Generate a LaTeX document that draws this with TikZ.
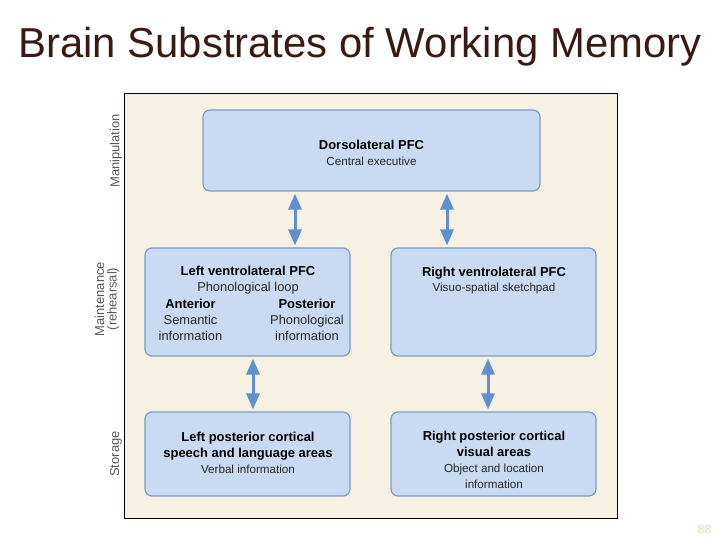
\documentclass[tikz,border=0pt]{standalone}
\usepackage{fontspec}
\setmainfont{Liberation Sans}
\usetikzlibrary{arrows.meta}
\definecolor{panelbg}{HTML}{F6F1E3}
\definecolor{boxfill}{HTML}{C9DBF2}
\definecolor{boxline}{HTML}{7A9CC4}
\definecolor{arrowblue}{HTML}{5E8FCE}
\definecolor{titlebrown}{HTML}{3A1A10}
\definecolor{pagetan}{HTML}{E2D8AE}
\tikzset{
  area/.style={draw=boxline, fill=boxfill, line width=1.2bp, rounded corners=7bp, inner sep=0pt},
  label/.style={align=center, inner sep=0pt, text=black!85, font=\fontsize{11.7}{16}\selectfont},
  biglabel/.style={label, font=\fontsize{12.9}{16}\selectfont},
  link/.style={arrowblue, line width=3bp, {Triangle[width=13bp,length=16bp]}-{Triangle[width=13bp,length=16bp]}, shorten >=2bp, shorten <=2bp},
  side/.style={rotate=90, align=center, inner sep=0pt, text=black!65, font=\fontsize{13}{12.5}\selectfont}
}
\newcommand{\hd}[1]{{\fontsize{13}{16}\selectfont\bfseries\color{black} #1}}
\begin{document}
\begin{tikzpicture}[x=1bp, y=-1bp]
\useasboundingbox (0,0) rectangle (720,540);
\fill[white] (0,0) rectangle (720,540);
% title and page number
\node[anchor=base, inner sep=0pt, text=titlebrown, font=\fontsize{42}{48}\selectfont] (title) at (360,58) {Brain Substrates of Working Memory};
\node[anchor=base, inner sep=0pt, text=pagetan, font=\fontsize{12}{12}\selectfont] (page) at (704.5,533) {88};
% panel
\node[draw=black, fill=panelbg, line width=0.8bp, minimum width=493bp, minimum height=425bp, inner sep=0pt] (panel) at (370.5,305.5) {};
% side labels
\node[side] (manip) at (116,151) {Manipulation};
\node[side] (maint) at (107,299) {Maintenance\\(rehearsal)};
\node[side] (store) at (116,454) {Storage};
% boxes
\node[area, minimum width=337bp, minimum height=81bp] (dlpfc) at (371.5,150.5) {};
\node[area, minimum width=205bp, minimum height=108bp] (lvl) at (247.5,302) {};
\node[area, minimum width=205bp, minimum height=108bp] (rvl) at (493.5,302) {};
\node[area, minimum width=205bp, minimum height=84bp] (lpc) at (247.5,454) {};
\node[area, minimum width=205bp, minimum height=84bp] (rpc) at (493.5,454) {};
% box texts
\node[label] (dlpfc-t) at (371.5,153) {\hd{Dorsolateral PFC}\\Central executive};
\node[biglabel] (lvl-t) at (248,280.5) {\hd{Left ventrolateral PFC}\\Phonological loop};
\node[biglabel] (lvl-a) at (190.5,319.5) {\hd{Anterior}\\Semantic\\information};
\node[biglabel] (lvl-p) at (307,319.5) {\hd{Posterior}\\Phonological\\information};
\node[label] (rvl-t) at (494,280.5) {\hd{Right ventrolateral PFC}\\Visuo-spatial sketchpad};
\node[label] (lpc-t) at (248,452.5) {\hd{Left posterior cortical}\\\hd{speech and language areas}\\Verbal information};
\node[label] (rpc-t) at (494,460) {\hd{Right posterior cortical}\\\hd{visual areas}\\Object and location\\information};
% connectors
\coordinate (ax1) at (295,0);
\coordinate (ax2) at (447,0);
\coordinate (ax3) at (253,0);
\coordinate (ax4) at (488,0);
\draw[link] (dlpfc.south -| ax1) -- (lvl.north -| ax1);
\draw[link] (dlpfc.south -| ax2) -- (rvl.north -| ax2);
\draw[link] (lvl.south -| ax3) -- (lpc.north -| ax3);
\draw[link] (rvl.south -| ax4) -- (rpc.north -| ax4);
\end{tikzpicture}
\end{document}
